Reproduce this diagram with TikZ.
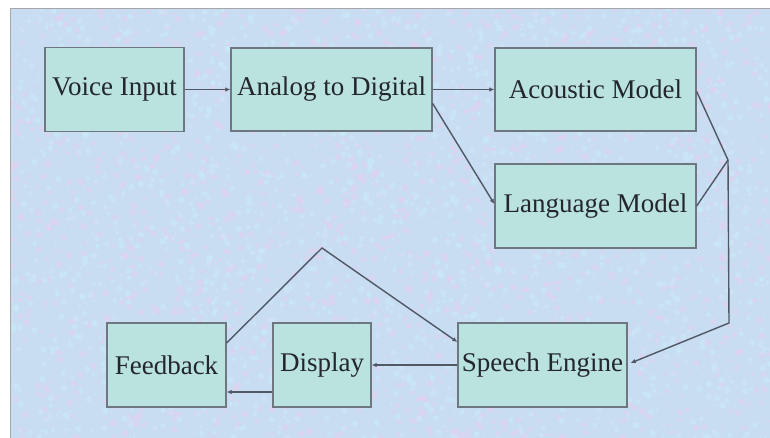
\documentclass[tikz,border=0pt]{standalone}
\usepackage{fontspec}
\setmainfont{Liberation Serif}
\usetikzlibrary{arrows.meta,calc}
\definecolor{bgblue}{RGB}{200,220,242}
\definecolor{bgpink}{RGB}{230,208,240}
\definecolor{bgcyan}{RGB}{200,236,248}
\definecolor{boxfill}{RGB}{186,226,222}
\definecolor{boxline}{RGB}{110,118,128}
\definecolor{txt}{RGB}{35,38,42}
\definecolor{wire}{RGB}{80,88,102}
\begin{document}
\begin{tikzpicture}[x=1pt,y=-1pt,
  blk/.style={draw=boxline,line width=1.3pt,fill=boxfill,inner sep=0pt,
    text=txt,font=\fontsize{27}{30}\selectfont},
  wirearrow/.style={draw=wire,line width=1.4pt,-{Latex[length=5pt,width=4.5pt]}},
  wireline/.style={draw=wire,line width=1.4pt}]
\useasboundingbox (0,0) rectangle (770,438);
\fill[white] (0,0) rectangle (770,438);
\fill[bgblue] (10,9) rectangle (770,438);
\begin{scope}
\clip (10,9) rectangle (770,438);
\pgfmathsetseed{7}
\foreach \i in {1,...,2200}{
  \pgfmathsetmacro{\px}{10+760*rnd}
  \pgfmathsetmacro{\py}{9+429*rnd}
  \pgfmathsetmacro{\pr}{1+2.5*rnd}
  \fill[bgpink,opacity=0.55] (\px,\py) circle[radius=\pr];
}
\foreach \i in {1,...,2200}{
  \pgfmathsetmacro{\px}{10+760*rnd}
  \pgfmathsetmacro{\py}{9+429*rnd}
  \pgfmathsetmacro{\pr}{1+2.5*rnd}
  \fill[bgcyan,opacity=0.5] (\px,\py) circle[radius=\pr];
}
\end{scope}
\draw[gray!70,line width=1pt] (10,438) -- (10,9) -- (770,9);

\node[blk,minimum width=139pt,minimum height=84pt] (vi) at (114.5,89.5) {Voice Input};
\node[blk,minimum width=201pt,minimum height=83pt] (ad) at (331.5,89.5) {Analog to Digital};
\node[blk,minimum width=201pt,minimum height=83pt] (am) at (595.5,89.5) {Acoustic Model};
\node[blk,minimum width=201pt,minimum height=84pt] (lm) at (595.5,206) {Language Model};
\node[blk,minimum width=169pt,minimum height=84pt] (se) at (542.5,365) {Speech Engine};
\node[blk,minimum width=119pt,minimum height=84pt] (fb) at (166.5,365) {Feedback};
\node[blk,minimum width=98pt,minimum height=84pt] (dp) at (322,365) {Display};

\coordinate (j1) at (728,160);
\coordinate (j2) at (729,323);
\coordinate (pk) at (322,248);

\draw[wirearrow] (vi.east) -- (ad.west);
\draw[wirearrow] (ad.east) -- (am.west);
\draw[wirearrow] ($(ad.east)+(0,14)$) -- ($(lm.west)+(0,-2)$);
\draw[wireline] ($(am.east)+(0,2)$) -- (j1);
\draw[wireline] (lm.east) -- (j1);
\draw[wirearrow] (j1) -- (j2) -- ($(se.east)+(3,-2)$);
\draw[wirearrow] (se.west) -- (dp.east);
\draw[wirearrow] ($(dp.west)+(0,27)$) -- ($(fb.east)+(0,27)$);
\draw[wirearrow] ($(fb.east)+(0,-22)$) -- (pk) -- ($(se.west)+(0,-23)$);
\end{tikzpicture}
\end{document}
